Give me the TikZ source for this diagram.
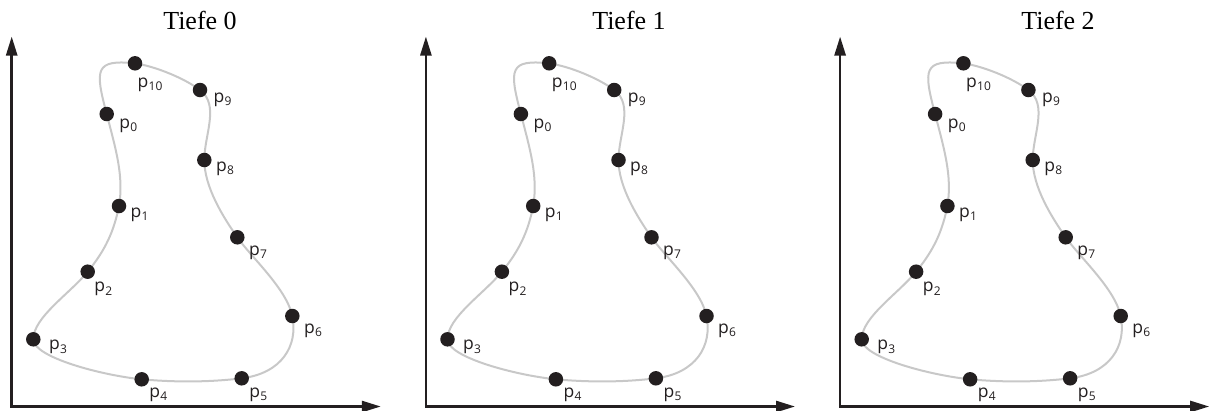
\documentclass[tikz,border=0pt]{standalone}
\usepackage{fontspec}
\setmainfont{Liberation Serif}
\newfontfamily\lblfont{Open Sans}
\usetikzlibrary{arrows.meta}
\definecolor{ink}{HTML}{231F20}
\definecolor{crv}{HTML}{C8C8C8}
\newcommand{\lsub}[1]{\kern0.3pt\raisebox{-3.5pt}{\fontsize{12}{12}\selectfont #1}}
\begin{document}
\begin{tikzpicture}[x=1pt,y=-1pt,
  axis/.style={draw=ink, line width=2.6pt, {Triangle[length=19pt,width=11pt]}-{Triangle[length=19pt,width=11pt]}},
  curve/.style={draw=crv, line width=2pt, line join=round},
  dot/.style={circle, fill=ink, inner sep=0pt, minimum size=14.5pt},
  lbl/.style={font=\lblfont\fontsize{17.5}{17.5}\selectfont, text=ink, inner sep=0pt, anchor=base west},
  ttl/.style={font=\fontsize{26}{26}\selectfont, inner sep=0pt, anchor=base}]
\path[use as bounding box] (0,0) rectangle (1209,410);
\foreach \dx/\tx/\k in {0/200/0, 414.2/214.8/1, 828.4/229.6/2} {
\begin{scope}[xshift=\dx pt, name prefix=P\k-]
  \node[ttl] (title) at (\tx,29) {Tiefe \k};
  \coordinate (Y) at (11.7,36.5);
  \coordinate (O) at (11.7,406.5);
  \coordinate (X) at (380.8,406.5);
  \draw[axis] (Y) -- (O) -- (X);
  \coordinate (c0) at (106.7,114);
  \coordinate (c1) at (119,206);
  \coordinate (c2) at (87.7,271.7);
  \coordinate (c3) at (33.3,339.3);
  \coordinate (c4) at (141.7,379.3);
  \coordinate (c5) at (241.7,378.3);
  \coordinate (c6) at (292.3,316);
  \coordinate (c7) at (237.3,237.3);
  \coordinate (c8) at (204.3,160);
  \coordinate (c9) at (200,90);
  \coordinate (c10) at (135,63.3);
  \draw[curve] (c0) .. controls +(9,35) and +(5,-30) .. (c1)
    .. controls +(-5,25) and +(18,-22) .. (c2)
    .. controls +(-18,22) and +(0,-22) .. (c3)
    .. controls +(0,18) and +(-40,-4) .. (c4)
    .. controls +(33,3) and +(-33,4) .. (c5)
    .. controls +(40,-5) and +(6,30) .. (c6)
    .. controls +(-5.5,-27) and +(14,20) .. (c7)
    .. controls +(-14,-20) and +(0,27) .. (c8)
    .. controls +(0,-25) and +(20,15) .. (c9)
    .. controls +(-16,-12) and +(20,3) .. (c10)
    .. controls +(-40,-4) and +(-12,-45) .. (c0) -- cycle;
  \foreach \i in {0,...,10} { \node[dot] (d\i) at (c\i) {}; }
  \node[lbl] (l0) at ([shift={(12.5,14)}]d0.center) {p\lsub{0}};
  \node[lbl] (l1) at ([shift={(11.5,11)}]d1.center) {p\lsub{1}};
  \node[lbl] (l2) at ([shift={(6.5,20)}]d2.center) {p\lsub{2}};
  \node[lbl] (l3) at ([shift={(15.5,10.5)}]d3.center) {p\lsub{3}};
  \node[lbl] (l4) at ([shift={(7.5,18)}]d4.center) {p\lsub{4}};
  \node[lbl] (l5) at ([shift={(7.5,19)}]d5.center) {p\lsub{5}};
  \node[lbl] (l6) at ([shift={(11.5,17)}]d6.center) {p\lsub{6}};
  \node[lbl] (l7) at ([shift={(11.5,18)}]d7.center) {p\lsub{7}};
  \node[lbl] (l8) at ([shift={(11.5,11)}]d8.center) {p\lsub{8}};
  \node[lbl] (l9) at ([shift={(13.5,12)}]d9.center) {p\lsub{9}};
  \node[lbl] (l10) at ([shift={(2.5,24)}]d10.center) {p\lsub{10}};
\end{scope}
}
\end{tikzpicture}
\end{document}
